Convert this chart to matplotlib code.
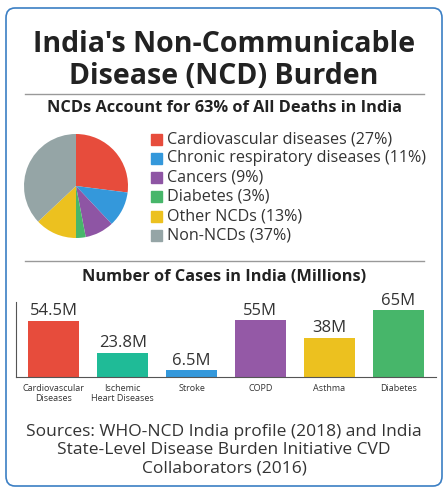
import matplotlib
matplotlib.use("Agg")
import matplotlib.pyplot as plt
from matplotlib.patches import FancyBboxPatch

# Pie data
pie_labels = ["Cardiovascular diseases (27%)", "Chronic respiratory diseases (11%)",
              "Cancers (9%)", "Diabetes (3%)", "Other NCDs (13%)", "Non-NCDs (37%)"]
pie_values = [27, 11, 9, 3, 13, 37]
pie_colors = ["#e74c3c", "#3498db", "#8e55a4", "#47b66a", "#ecc11f", "#95a5a6"]

# Bar data
bar_labels = ["Cardiovascular\nDiseases", "Ischemic\nHeart Diseases", "Stroke", "COPD", "Asthma", "Diabetes"]
bar_values = [54.5, 23.8, 6.5, 55, 38, 65]
bar_text = ["54.5M", "23.8M", "6.5M", "55M", "38M", "65M"]
bar_colors = ["#e74c3c", "#1fbb97", "#3498db", "#9459a6", "#ecc11f", "#47b66a"]

plt.rcParams["font.family"] = ["Open Sans", "DejaVu Sans"]
W, H = 448, 492
fig = plt.figure(figsize=(W / 100, H / 100), dpi=100)
fig.patch.set_facecolor("white")

def fx(x): return x / W
def fy(y): return 1 - y / H

# border
fig.patches.append(FancyBboxPatch((fx(6), fy(486)), fx(436), 478 / H,
                                  boxstyle="round,pad=0,rounding_size=0.02",
                                  transform=fig.transFigure, fill=False,
                                  edgecolor="#3b7fc4", linewidth=1.2))

fig.text(0.5, fy(45), "India's Non-Communicable", ha="center", va="center",
         fontsize=20.5, fontweight="bold", color="#222222")
fig.text(0.5, fy(76), "Disease (NCD) Burden", ha="center", va="center",
         fontsize=20.5, fontweight="bold", color="#222222")
for y in (94, 261):
    fig.add_artist(plt.Line2D([fx(25), fx(424)], [fy(y), fy(y)], color="#999999", lw=1))
fig.text(0.5, fy(108), "NCDs Account for 63% of All Deaths in India", ha="center", va="center",
         fontsize=11.8, fontweight="bold", color="#222222")

# pie
r = 65
ax_pie = fig.add_axes([fx(76 - r), fy(186 + r), 2 * r / W, 2 * r / H])
ax_pie.pie(pie_values, colors=pie_colors, startangle=90, counterclock=False,
           wedgeprops=dict(linewidth=0))
ax_pie.set_aspect("auto")

for i, (lab, c) in enumerate(zip(pie_labels, pie_colors)):
    y = 139 + i * 19.3
    fig.patches.append(plt.Rectangle((fx(151), fy(y + 5.5)), fx(11), 11 / H,
                                     transform=fig.transFigure, color=c))
    fig.text(fx(167), fy(y), lab, ha="left", va="center", fontsize=11.6, color="#333333")

fig.text(0.5, fy(277), "Number of Cases in India (Millions)", ha="center", va="center",
         fontsize=11.8, fontweight="bold", color="#222222")

# bars
ax = fig.add_axes([fx(16), fy(377), fx(420), 75 / H])
x = range(len(bar_values))
bars = ax.bar(x, bar_values, color=bar_colors, width=0.74)
for b, t in zip(bars, bar_text):
    ax.text(b.get_x() + b.get_width() / 2, b.get_height() + 1.5, t,
            ha="center", va="bottom", fontsize=12, color="#333333")
ax.set_xlim(-0.55, 5.55)
ax.set_ylim(0, 73)
ax.set_xticks(list(x))
ax.set_xticklabels(bar_labels, fontsize=6.5, color="#333333")
ax.tick_params(length=0, pad=5)
ax.set_yticks([])
for s in ("top", "right"):
    ax.spines[s].set_visible(False)
ax.spines["left"].set_color("#555555")
ax.spines["bottom"].set_color("#555555")

src = ("Sources: WHO-NCD India profile (2018) and India\n"
       "State-Level Disease Burden Initiative CVD\nCollaborators (2016)")
fig.text(0.5, fy(450), src, ha="center", va="center", fontsize=12.5,
         color="#333333", linespacing=1.2)

fig.savefig("out.png", dpi=100)
